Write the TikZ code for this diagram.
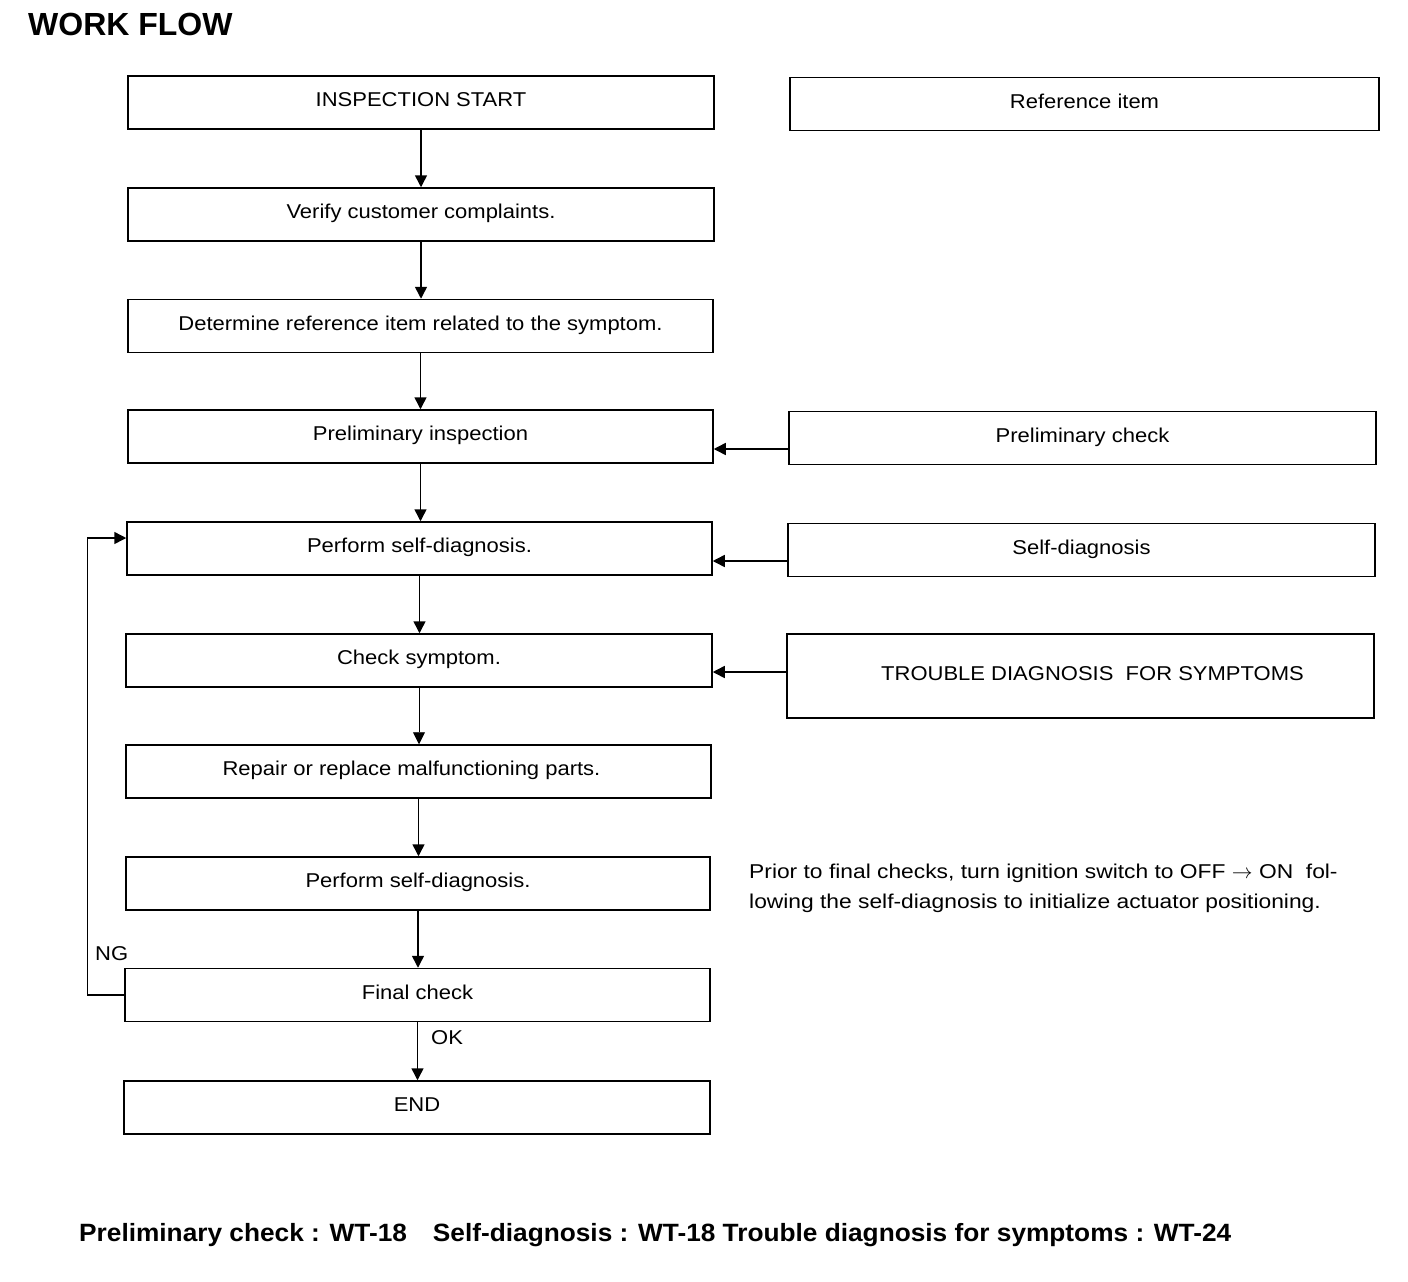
\documentclass[tikz,border=0pt]{standalone}
\usepackage{fontspec}
\setmainfont{Liberation Sans}
\newfontfamily\boxfont[FakeStretch=1.1]{Liberation Sans}
\newfontfamily\notefont[FakeStretch=1.14]{Liberation Sans}
\newfontfamily\footfont[FakeStretch=1.05]{Liberation Sans}
\usetikzlibrary{arrows.meta,calc}
\begin{document}
\begin{tikzpicture}[x=1pt,y=-1pt,
  box/.style={draw, line width=1.5pt, minimum height=53pt, inner sep=0pt,
    text height=14pt, text depth=6pt,
    font=\boxfont\fontsize{20}{24}\selectfont},
  arr/.style={line width=1.5pt, -{Triangle[length=12pt,width=12pt]}},
  thinarr/.style={line width=0.9pt, -{Triangle[length=12pt,width=12pt]}},
  lbl/.style={inner sep=0pt, font=\boxfont\fontsize{20}{24}\selectfont},
]
\useasboundingbox (0,0) rectangle (1408,1282);

\node[anchor=base west, inner sep=0pt, font=\bfseries\fontsize{32}{36}\selectfont] (title) at (28,35) {WORK FLOW};

\node[box, minimum width=586pt] (start) at (421,102.5) {INSPECTION START};
\node[box, minimum width=589pt] (ref) at (1084.5,104) {Reference item};
\node[box, minimum width=586pt] (verify) at (421,214.5) {Verify customer complaints.};
\node[box, minimum width=585pt] (det) at (420.5,326) {Determine reference item related to the symptom.};
\node[box, minimum width=585pt] (pi) at (420.5,436.5) {Preliminary inspection};
\node[box, minimum width=587pt] (pc) at (1082.5,438) {Preliminary check};
\node[box, minimum width=585pt] (psd) at (419.5,548.5) {Perform self-diagnosis.};
\node[box, minimum width=587pt] (sd) at (1081.5,550) {Self-diagnosis};
\node[box, minimum width=586pt] (cs) at (419,660.5) {Check symptom.};
\node[box, minimum width=587pt, minimum height=84pt] (tds) at (1080.5,676) {\hspace*{24pt}TROUBLE DIAGNOSIS\ \ FOR SYMPTOMS};
\node[box, minimum width=585pt] (rep) at (418.5,771.5) {Repair or replace malfunctioning parts.\hspace*{14pt}};
\node[box, minimum width=584pt] (psd2) at (418,883.5) {Perform self-diagnosis.};
\node[box, minimum width=585pt] (fc) at (417.5,995) {Final check};
\node[box, minimum width=586pt] (end) at (417,1107.5) {END};

% main vertical flow
\draw[arr] (start.south) -- (start.south |- verify.north);
\draw[arr] (verify.south) -- (verify.south |- det.north);
\draw[arr] (det.south) -- (det.south |- pi.north);
\draw[arr] (pi.south) -- (pi.south |- psd.north);
\draw[arr] (psd.south) -- (psd.south |- cs.north);
\draw[thinarr] (cs.south) -- (cs.south |- rep.north);
\draw[arr] (rep.south) -- (rep.south |- psd2.north);
\draw[arr] (psd2.south) -- (psd2.south |- fc.north);
\draw[arr] (fc.south) -- (fc.south |- end.north);

% reference arrows
\coordinate (a1) at ($(pc.west)+(0,11)$);
\coordinate (a2) at ($(sd.west)+(0,11)$);
\coordinate (a3) at ($(tds.west)+(0,-4)$);
\draw[arr] (a1) -- (a1 -| pi.east);
\draw[arr] (a2) -- (a2 -| psd.east);
\draw[arr] (a3) -- (a3 -| cs.east);

% feedback loop
\coordinate (fb) at ($(psd.west)+(0,-10.5)$);
\draw[arr] (fc.west) -- ++(-37,0) |- (fb);
\node[lbl, anchor=base west] (ng) at (95,960) {NG};
\node[lbl, anchor=base west] (ok) at (431,1044) {OK};

% note
\node[lbl, anchor=base west, align=left, font=\notefont\fontsize{20}{30}\selectfont] (note) at (749,908)
  {Prior to final checks, turn ignition switch to OFF $\rightarrow$ ON\ \ fol-\\lowing the self-diagnosis to initialize actuator positioning.};

% footer
\node[anchor=base west, inner sep=0pt, font=\footfont\bfseries\fontsize{25}{30}\selectfont] (foot) at (79,1241)
  {Preliminary check : WT-18\hspace{26pt}Self-diagnosis : WT-18 Trouble diagnosis for symptoms : WT-24};
\end{tikzpicture}
\end{document}
